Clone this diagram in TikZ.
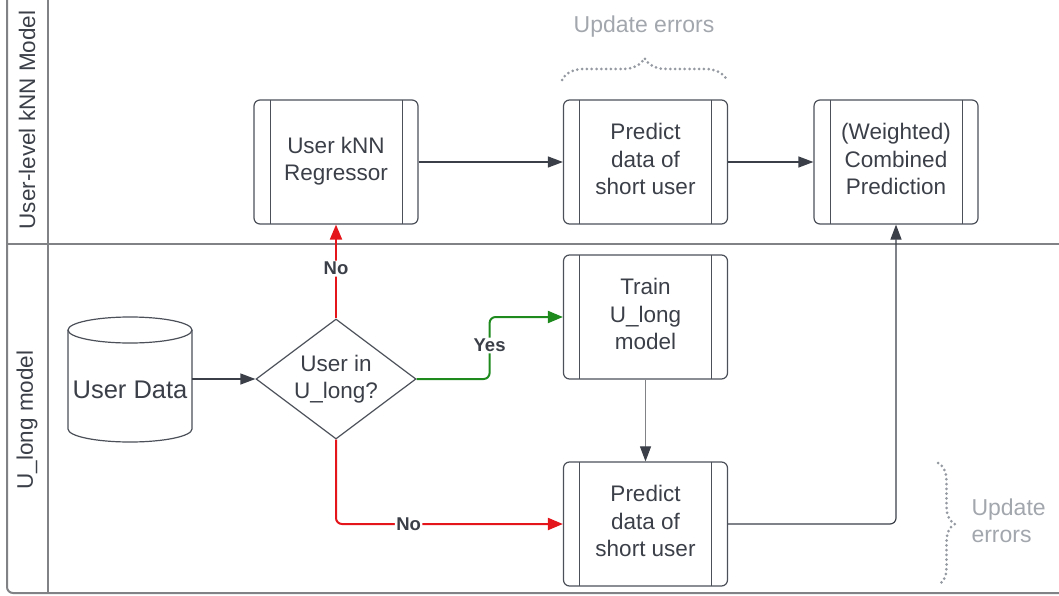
\documentclass[tikz,border=0pt]{standalone}
\usepackage{fontspec}
\setmainfont{Liberation Sans}
\usetikzlibrary{arrows.meta,shapes.geometric,decorations.pathreplacing,calc}

\definecolor{edge}{HTML}{4B5059}
\definecolor{ink}{HTML}{3B3F48}
\definecolor{lanegray}{HTML}{808285}
\definecolor{softgray}{HTML}{A2A6AD}
\definecolor{dotgray}{HTML}{959AA2}
\definecolor{noRed}{HTML}{E4161B}
\definecolor{yesGreen}{HTML}{1E8A1E}

\tikzset{
  procbox/.style={draw=edge, line width=1.2pt, rounded corners=6pt,
    minimum width=164pt, minimum height=124pt, inner sep=0pt,
    align=center, text=ink, font=\fontsize{22.5}{27.5}\selectfont,
    text depth=6pt,
    path picture={
      \draw[edge, line width=0.8pt]
        ([xshift=16pt]path picture bounding box.north west) --
        ([xshift=16pt]path picture bounding box.south west);
      \draw[edge, line width=0.8pt]
        ([xshift=-16pt]path picture bounding box.north east) --
        ([xshift=-16pt]path picture bounding box.south east);
    }},
  decision/.style={draw=edge, line width=1.2pt, diamond, aspect=1.333,
    minimum width=160pt, minimum height=120pt, inner sep=0pt,
    align=center, text=ink, font=\fontsize{22.5}{27.5}\selectfont},
  flow/.style={draw=ink, line width=1.2pt,
    -{Triangle[length=15pt,width=11pt]}},
  thinflow/.style={draw=lanegray, line width=1pt,
    -{Triangle[length=15pt,width=11pt,fill=ink,color=ink]}},
  noflow/.style={draw=noRed, line width=2pt, rounded corners=6pt,
    -{Triangle[length=15pt,width=12pt]}},
  yesflow/.style={draw=yesGreen, line width=2pt, rounded corners=6pt,
    -{Triangle[length=15pt,width=12pt]}},
  edgelabel/.style={fill=white, inner sep=1.5pt, text=ink,
    font=\fontsize{18.5}{20}\selectfont\bfseries},
  lanetitle/.style={rotate=90, text=ink, font=\fontsize{22.5}{24}\selectfont},
  lane/.style={draw=lanegray, line width=2pt},
  dotbrace/.style={draw=dotgray, line width=3pt, line cap=round,
    dash pattern=on 0pt off 4.8pt, decorate},
  note/.style={text=softgray, font=\fontsize{23}{27.5}\selectfont}
}

\begin{document}
\begin{tikzpicture}[x=1pt, y=-1pt]
  \useasboundingbox (0,0) rectangle (1059,596);
  \clip (0,0) rectangle (1059,596);

  % swimlane frame
  \draw[lane, rounded corners=6pt] (7,-20) -- (7,593) -- (1080,593);
  \draw[lane] (48,-20) -- (48,593);
  \draw[lane] (7,244) -- (1080,244);
  \node[lanetitle] (laneknn) at (27,120) {User-level kNN Model};
  \node[lanetitle] (laneulong) at (27,420) {U\_long model};

  % user data store
  \draw[draw=edge, line width=1.2pt, fill=white]
    (68,330) -- (68,429) arc[start angle=180, end angle=360,
      x radius=62pt, y radius=13pt] -- (192,330);
  \draw[draw=edge, line width=1.2pt] (130,330) ellipse [x radius=62pt, y radius=13pt];
  \node[text=ink, font=\fontsize{25.5}{28}\selectfont, minimum width=124pt,
    minimum height=100pt] (data) at (130,390) {User Data};

  % process steps
  \node[procbox] (knn) at (336,162) {User kNN\\Regressor};
  \node[procbox] (predtop) at (645.5,162) {Predict\\data of\\short user};
  \node[procbox] (comb) at (896,162) {(Weighted)\\Combined\\Prediction};
  \node[procbox] (train) at (645.5,317) {Train\\U\_long\\model};
  \node[procbox] (predbot) at (645.5,524) {Predict\\data of\\short user};
  \node[decision] (dec) at (336,379) {User in\\U\_long?};

  % connectors
  \draw[flow] (data.east |- dec.west) -- (dec.west);
  \draw[noflow] (dec.north) -- node[edgelabel, pos=0.53] {No} (knn.south);
  \draw[yesflow] (dec.east) -- ++(73,0) |- node[edgelabel, pos=0.27] {Yes} (train.west);
  \draw[noflow] (dec.south) |- node[edgelabel, pos=0.66] {No} (predbot.west);
  \draw[flow] (knn.east) -- (predtop.west);
  \draw[flow] (predtop.east) -- (comb.west);
  \draw[thinflow] (train.south) -- (predbot.north);
  \draw[flow, rounded corners=6pt] (predbot.east) -| (comb.south);

  % update-error annotations
  \draw[dotbrace, decoration={brace, amplitude=22pt}] (562,80) -- (727,80);
  \node[note] (errtop) at (644,27) {Update errors};
  \draw[dotbrace, decoration={brace, amplitude=17pt}] (938,463) -- (938,585);
  \node[note, align=left, anchor=west] (errside) at (968,521) {Update\\errors};
\end{tikzpicture}
\end{document}
